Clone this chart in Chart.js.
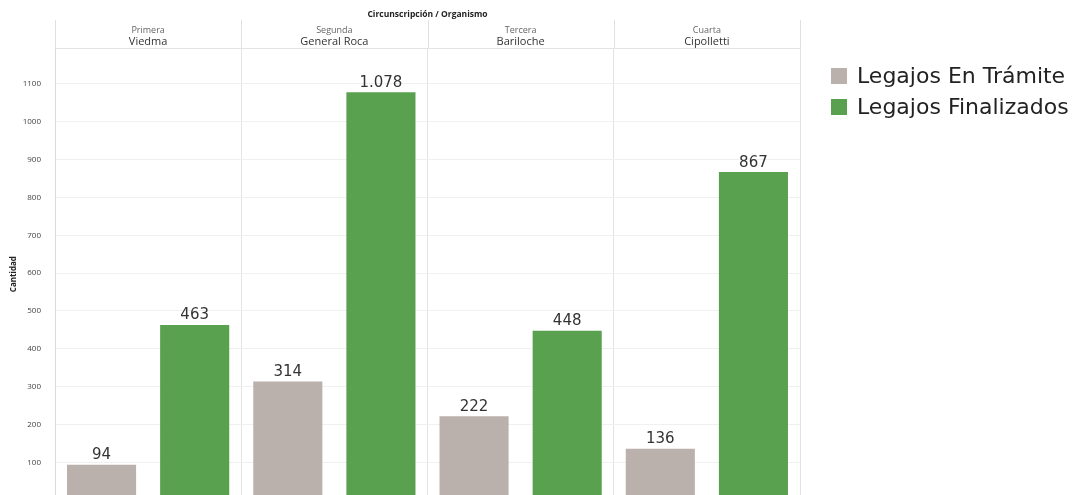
<!DOCTYPE html>
<html>
<head>
<meta charset="utf-8">
<script src="https://cdn.jsdelivr.net/npm/chart.js@4.4.1/dist/chart.umd.min.js"></script>
<style>
  html, body { margin: 0; padding: 0; background: #fff; overflow: hidden; }
  #wrap { position: relative; width: 1077px; height: 519px; }
  #legend {
    position: absolute; left: 831px; top: 60px;
    list-style: none; margin: 0; padding: 0;
    font-family: 'DejaVu Sans', sans-serif; font-size: 22px; color: #222;
  }
  #legend li { display: flex; align-items: center; height: 31px; }
  #legend .box { width: 16px; height: 16px; margin-right: 10px; }
</style>
</head>
<body>
<div id="wrap">
  <canvas id="legajosChart"></canvas>
  <ul id="legend"></ul>
</div>
<script>
// Datos
const circunscripciones = ["Primera", "Segunda", "Tercera", "Cuarta"];
const organismos = ["Viedma", "General Roca", "Bariloche", "Cipolletti"];
const enTramite = [94, 314, 222, 136];
const finalizados = [463, 1078, 448, 867];
const yTicks = [0, 100, 200, 300, 400, 500, 600, 700, 800, 900, 1000, 1100];
const yMax = 1195;

const FONT = "'Open Sans', 'Noto Sans', sans-serif";

// 1078 -> "1.078"
function formatNum(v) {
  return String(v).replace(/\B(?=(\d{3})+(?!\d))/g, ".");
}

// Lineas verticales en el encabezado
const headerLines = {
  id: "headerLines",
  afterDraw(chart) {
    const { ctx } = chart;
    const x = chart.scales.x;
    const top = chart.scales.x2.top + 20;
    const n = organismos.length;
    ctx.save();
    ctx.strokeStyle = "#e0e0e0";
    ctx.lineWidth = 1;
    for (let i = 0; i <= n; i++) {
      const px = Math.round(x.left + (i * x.width) / n) + 0.5;
      ctx.beginPath();
      ctx.moveTo(px, top);
      ctx.lineTo(px, x.bottom);
      ctx.stroke();
    }
    ctx.restore();
  },
};

// Etiquetas de valores sobre las barras
const valueLabels = {
  id: "valueLabels",
  afterDatasetsDraw(chart) {
    const { ctx } = chart;
    ctx.save();
    ctx.font = "15px 'DejaVu Sans', sans-serif";
    ctx.fillStyle = "#333";
    ctx.textAlign = "center";
    ctx.textBaseline = "bottom";
    chart.data.datasets.forEach((ds, di) => {
      chart.getDatasetMeta(di).data.forEach((bar, i) => {
        ctx.fillText(formatNum(ds.data[i]), bar.x, bar.y - 2);
      });
    });
    ctx.restore();
  },
};

// Leyenda HTML
const htmlLegend = {
  id: "htmlLegend",
  afterUpdate(chart) {
    const ul = document.getElementById("legend");
    ul.innerHTML = "";
    chart.options.plugins.legend.labels.generateLabels(chart).forEach((item) => {
      const li = document.createElement("li");
      const box = document.createElement("span");
      box.className = "box";
      box.style.background = item.fillStyle;
      const txt = document.createElement("span");
      txt.textContent = item.text;
      li.appendChild(box);
      li.appendChild(txt);
      ul.appendChild(li);
    });
  },
};

const ctx = document.getElementById("legajosChart").getContext("2d");

new Chart(ctx, {
  type: "bar",
  data: {
    labels: organismos,
    datasets: [
      {
        label: "Legajos En Trámite",
        data: enTramite,
        backgroundColor: "#bab0ac",
        categoryPercentage: 1,
        barPercentage: 0.742,
      },
      {
        label: "Legajos Finalizados",
        data: finalizados,
        backgroundColor: "#59a14f",
        categoryPercentage: 1,
        barPercentage: 0.742,
      },
    ],
  },
  options: {
    responsive: true,
    maintainAspectRatio: false,
    animation: false,
    layout: { padding: { left: 0, right: 277, top: 0, bottom: 0 } },
    scales: {
      x: {
        position: "top",
        offset: true,
        grid: { offset: true, color: "#e3e3e3", drawTicks: false },
        border: { display: true, color: "#e3e3e3" },
        ticks: {
          font: { family: FONT, size: 11 },
          color: "#333",
          padding: 0,
        },
        afterFit: (s) => { s.height = 12; },
      },
      x2: {
        type: "category",
        position: "top",
        labels: circunscripciones,
        offset: true,
        grid: { display: false, drawTicks: false },
        border: { display: false },
        ticks: {
          font: { family: FONT, size: 9 },
          color: "#666",
          padding: 0,
        },
        title: {
          display: true,
          text: "Circunscripción / Organismo",
          font: { family: FONT, size: 8.5, weight: "bold" },
          color: "#222",
          padding: { top: 9, bottom: 0 },
        },
        afterFit: (s) => { s.height = 36; },
      },
      y: {
        min: 0,
        max: yMax,
        grid: { color: "#f0f0f0", drawTicks: false },
        border: { display: true, color: "#d9d9d9" },
        afterBuildTicks: (s) => {
          s.ticks = yTicks.map((v) => ({ value: v }));
        },
        ticks: {
          font: { family: FONT, size: 8 },
          color: "#444",
          padding: 14,
          callback: (v) => String(v),
        },
        title: {
          display: true,
          text: "Cantidad",
          font: { family: FONT, size: 8, weight: "bold" },
          color: "#222",
          padding: { top: 9, bottom: 0 },
        },
        afterFit: (s) => { s.width = 55; },
      },
    },
    plugins: {
      title: { display: false },
      tooltip: { enabled: false },
      legend: { display: false },
    },
  },
  plugins: [headerLines, valueLabels, htmlLegend],
});
</script>
</body>
</html>
